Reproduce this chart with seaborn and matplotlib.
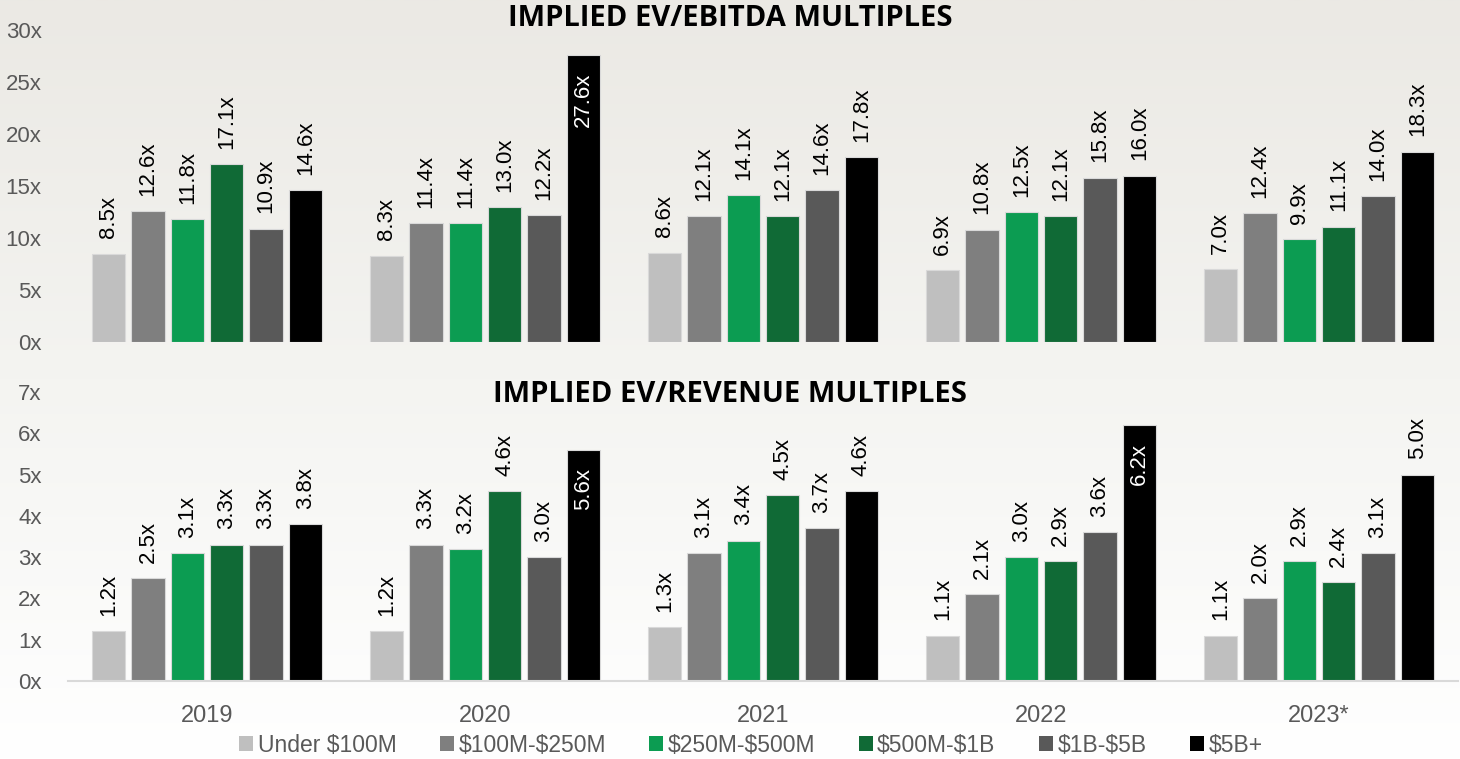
import matplotlib
matplotlib.use("Agg")
import matplotlib.pyplot as plt
import seaborn as sns
import numpy as np
import pandas as pd
from matplotlib.patches import Patch

# ── data ─────────────────────────────────────────
years = ["2019", "2020", "2021", "2022", "2023*"]
sizes = ["Under $100M", "$100M-$250M", "$250M-$500M", "$500M-$1B", "$1B-$5B", "$5B+"]
colors = ["#bfbfbf", "#7f7f7f", "#0c9c52", "#106a36", "#595959", "#000000"]

ebitda = {
    "Under $100M": [8.5, 8.3, 8.6, 6.9, 7.0],
    "$100M-$250M": [12.6, 11.4, 12.1, 10.8, 12.4],
    "$250M-$500M": [11.8, 11.4, 14.1, 12.5, 9.9],
    "$500M-$1B":   [17.1, 13.0, 12.1, 12.1, 11.1],
    "$1B-$5B":     [10.9, 12.2, 14.6, 15.8, 14.0],
    "$5B+":        [14.6, 27.6, 17.8, 16.0, 18.3],
}
revenue = {
    "Under $100M": [1.2, 1.2, 1.3, 1.1, 1.1],
    "$100M-$250M": [2.5, 3.3, 3.1, 2.1, 2.0],
    "$250M-$500M": [3.1, 3.2, 3.4, 3.0, 2.9],
    "$500M-$1B":   [3.3, 4.6, 4.5, 2.9, 2.4],
    "$1B-$5B":     [3.3, 3.0, 3.7, 3.6, 3.1],
    "$5B+":        [3.8, 5.6, 4.6, 6.2, 5.0],
}

def to_long(d):
    rows = []
    for s in sizes:
        for y, v in zip(years, d[s]):
            rows.append({"year": y, "size": s, "value": v})
    return pd.DataFrame(rows)

df_e = to_long(ebitda)
df_r = to_long(revenue)

sns.set_theme(style="white")
plt.rcParams["font.family"] = ["Liberation Sans", "DejaVu Sans"]

W, H = 1460, 759
fig = plt.figure(figsize=(W / 100, H / 100), dpi=100)

# soft vertical gradient background
bg = fig.add_axes([0, 0, 1, 1], zorder=-10)
grad = np.linspace(0, 1, 256).reshape(-1, 1)
bg.imshow(grad, aspect="auto", cmap=matplotlib.colors.LinearSegmentedColormap.from_list(
    "bg", ["#ebe9e4", "#f4f4f1", "#ffffff"]), extent=[0, 1, 0, 1], origin="upper")
bg.axis("off")

left, right = 68 / W, 1458 / W
ax1 = fig.add_axes([left, (H - 342) / H, right - left, (342 - 30) / H])
ax2 = fig.add_axes([left, (H - 681) / H, right - left, (681 - 392) / H])

def draw(ax, df, ymax, step, inside_thr, title, title_y):
    sns.barplot(data=df, x="year", y="value", hue="size", hue_order=sizes,
                palette=colors, width=0.85, gap=0.15, saturation=1,
                edgecolor="#d9d9d9", linewidth=0.8, legend=False, ax=ax)
    ax.set_facecolor("none")
    ax.set_ylim(0, ymax)
    ax.set_xlim(-0.5, len(years) - 0.5)
    ticks = np.arange(0, ymax + 0.01, step)
    ax.set_yticks(ticks)
    ax.set_yticklabels([f"{t:g}x" for t in ticks], fontsize=16, color="#595959")
    ax.tick_params(axis="y", length=0, pad=19)
    ax.set_xlabel("")
    ax.set_ylabel("")
    for sp in ax.spines.values():
        sp.set_visible(False)
    for cont in ax.containers:
        for bar in cont:
            h = bar.get_height()
            x = bar.get_x() + bar.get_width() / 2
            if h > inside_thr:
                ax.annotate(f"{h:.1f}x", (x, h), xytext=(0, -13), textcoords="offset points",
                            rotation=90, ha="center", va="top", fontsize=16, color="white")
            else:
                ax.annotate(f"{h:.1f}x", (x, h), xytext=(0, 11), textcoords="offset points",
                            rotation=90, ha="center", va="bottom", fontsize=16, color="black")
    fig.text(0.5, title_y, title, ha="center", va="center", fontsize=21,
             fontweight="bold", family=["Open Sans", "DejaVu Sans"], color="black")

draw(ax1, df_e, 30, 5, 25, "IMPLIED EV/EBITDA MULTIPLES", (H - 18) / H)
ax1.set_xticks([])

draw(ax2, df_r, 7, 1, 5.4, "IMPLIED EV/REVENUE MULTIPLES", (H - 394) / H)
ax2.spines["bottom"].set_visible(True)
ax2.spines["bottom"].set_color("#d9d9d9")
ax2.spines["bottom"].set_linewidth(1.5)
ax2.tick_params(axis="x", length=0, pad=17, labelsize=17, labelcolor="#595959")

# legend
handles = [Patch(facecolor=c, edgecolor="none") for c in colors]
labels = [s.replace("$", r"\$") for s in sizes]
fig.legend(handles, labels, loc="center", bbox_to_anchor=(751 / W, (H - 745) / H), ncol=6,
           frameon=False, fontsize=16.5, labelcolor="#595959", handlelength=0.6,
           handleheight=0.6, handletextpad=0.2, columnspacing=1.9)

fig.savefig("out.png", dpi=100)
